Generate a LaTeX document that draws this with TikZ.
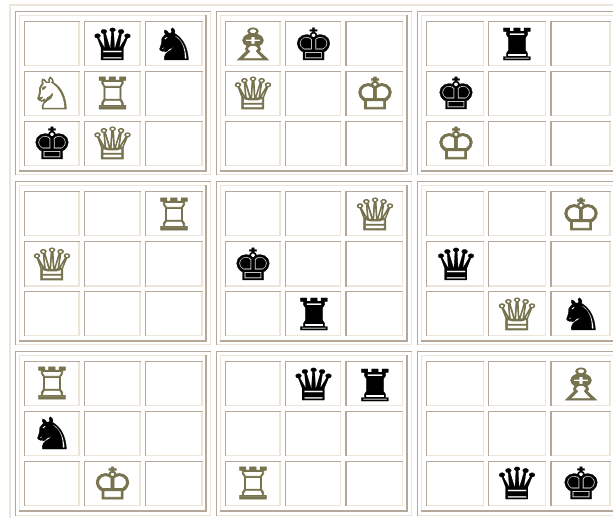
\documentclass[tikz,border=0pt]{standalone}
\usepackage{fontspec}
\newfontfamily\chessQ[FakeStretch=1.2,FakeBold=1.6]{DejaVu Sans}
\newfontfamily\chessK[FakeStretch=1.06,FakeBold=1.6]{DejaVu Sans}
\newfontfamily\chessR[FakeStretch=1.08,FakeBold=1.6]{DejaVu Sans}
\newfontfamily\chessB[FakeStretch=1.5,FakeBold=1.6]{DejaVu Sans}
\newfontfamily\chessN[FakeStretch=1.15,FakeBold=1.6]{DejaVu Sans}
\newfontfamily\chessQb[FakeStretch=1.2,FakeBold=0.6]{DejaVu Sans}
\newfontfamily\chessKb[FakeStretch=1.06,FakeBold=0.6]{DejaVu Sans}
\newfontfamily\chessRb[FakeStretch=1.08,FakeBold=0.6]{DejaVu Sans}
\newfontfamily\chessNb[FakeStretch=1.15,FakeBold=0.6]{DejaVu Sans}
\definecolor{framedark}{HTML}{B5A89B}
\definecolor{framelite}{HTML}{EDE5DA}
\definecolor{olivepiece}{HTML}{77734F}
\tikzset{
  darkline/.style={draw=framedark,line width=#1,line cap=rect},
  liteline/.style={draw=framelite,line width=#1,line cap=rect},
  piecebase/.style={inner sep=0pt,outer sep=0pt,anchor=base},
  whitequeen/.style={piecebase,text=olivepiece,font=\chessQ\fontsize{44}{44}\selectfont},
  whiteking/.style={piecebase,text=olivepiece,font=\chessK\fontsize{44}{44}\selectfont},
  whiterook/.style={piecebase,text=olivepiece,font=\chessR\fontsize{44}{44}\selectfont},
  whitebishop/.style={piecebase,text=olivepiece,font=\chessB\fontsize{44}{44}\selectfont},
  whiteknight/.style={piecebase,text=olivepiece,font=\chessN\fontsize{44}{44}\selectfont},
  blackqueen/.style={piecebase,text=black,font=\chessQb\fontsize{44}{44}\selectfont},
  blackking/.style={piecebase,text=black,font=\chessKb\fontsize{44}{44}\selectfont},
  blackrook/.style={piecebase,text=black,font=\chessRb\fontsize{44}{44}\selectfont},
  blackknight/.style={piecebase,text=black,font=\chessNb\fontsize{44}{44}\selectfont},
}
\newcommand\cellframe[4]{%
  \draw[liteline=1.2pt] (#1,#4) -- (#3,#4) -- (#3,#2);
  \draw[darkline=1.7pt] (#1,#4) -- (#1,#2);
  \draw[darkline=1pt] (#1,#2) -- (#3,#2);
}
\begin{document}
\begin{tikzpicture}[x=1pt,y=-1pt]
\useasboundingbox (0,0) rectangle (613,518);
\fill[white] (0,0) rectangle (613,518);
\draw[liteline=1.6pt] (10,518) -- (10,5) -- (613,5);
\foreach \oL/\iL/\aL/\aR/\bL/\bR/\cL/\cR/\iR/\oR in {
  15.5/19.5/24.5/79/84.5/140/145.5/202/206/210.5,
  216.5/220.5/225.5/280/285.5/340.5/346/402.5/407/411.5,
  417.5/421.5/426.5/483.5/488.5/545.5/551/610/616/620}{
  \foreach \oT/\iT/\pT/\pB/\qT/\qB/\rT/\rB/\iB/\oB in {
    11.5/15.5/21.5/65.5/71.5/115.5/121.5/165.5/171/175,
    181.5/185.5/191.5/235.5/241.5/286/291.5/335.5/341/345,
    351.5/355.5/361.5/405.5/411.5/455.5/461.5/505.5/511/515}{
    \draw[liteline=1pt] (\oL,\oB) -- (\oR,\oB) -- (\oR,\oT);
    \draw[darkline=1pt] (\oL,\oB) -- (\oL,\oT) -- (\oR,\oT);
    \draw[liteline=1.4pt] (\iL,\iB) -- (\iL,\iT) -- (\iR,\iT);
    \draw[darkline=1.6pt] (\iL,\iB) -- (\iR,\iB) -- (\iR,\iT);
    \foreach \x/\X in {\aL/\aR,\bL/\bR,\cL/\cR}{
      \foreach \y/\Y in {\pT/\pB,\qT/\qB,\rT/\rB}{
        \cellframe{\x}{\y}{\X}{\Y}
      }
    }
  }
}
% row of boards 1
\node[blackqueen] (p01) at (112.5,60) {♛};
\node[blackknight] (p02) at (174,60) {♞};
\node[whiteknight] (p03) at (52,109) {♘};
\node[whiterook] (p04) at (112.5,109) {♖};
\node[blackking] (p05) at (52,159) {♚};
\node[whitequeen] (p06) at (112.5,159) {♕};
\node[whitebishop] (p07) at (253,60) {♗};
\node[blackking] (p08) at (313.5,60) {♚};
\node[whitequeen] (p09) at (253,109) {♕};
\node[whiteking] (p10) at (375,109) {♔};
\node[blackrook] (p11) at (517,60) {♜};
\node[blackking] (p12) at (456,109) {♚};
\node[whiteking] (p13) at (456,159) {♔};
% row of boards 2
\node[whiterook] (p14) at (174,230) {♖};
\node[whitequeen] (p15) at (52,280) {♕};
\node[whitequeen] (p16) at (375,230) {♕};
\node[blackking] (p17) at (253,280) {♚};
\node[blackrook] (p18) at (314,330) {♜};
\node[whiteking] (p19) at (581,230) {♔};
\node[blackqueen] (p20) at (456,280) {♛};
\node[whitequeen] (p21) at (517,330) {♕};
\node[blackknight] (p22) at (581,330) {♞};
% row of boards 3
\node[whiterook] (p23) at (52,399) {♖};
\node[blackknight] (p24) at (52,449) {♞};
\node[whiteking] (p25) at (112.5,499) {♔};
\node[blackqueen] (p26) at (313.5,400) {♛};
\node[blackrook] (p27) at (375,401) {♜};
\node[whiterook] (p28) at (253,499) {♖};
\node[whitebishop] (p29) at (581,400) {♗};
\node[blackqueen] (p30) at (517,499) {♛};
\node[blackking] (p31) at (581,499) {♚};
\end{tikzpicture}
\end{document}
